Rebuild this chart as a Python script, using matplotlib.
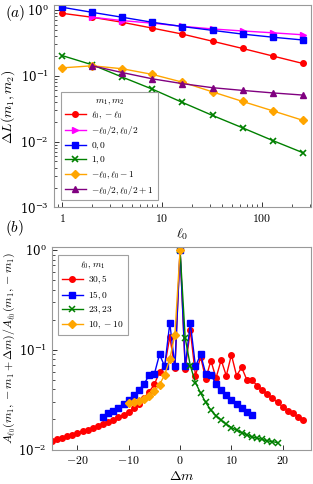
import numpy as np
import matplotlib
matplotlib.use("Agg")
import matplotlib.pyplot as plt
from matplotlib.ticker import FuncFormatter, LogLocator, NullFormatter

plt.rcParams['mathtext.fontset'] = 'cm'
plt.rcParams['font.family'] = 'serif'
plt.rcParams['font.serif'] = ['DejaVu Serif']
plt.rcParams['axes.formatter.use_mathtext'] = True

# ---------------- Panel (a) data ----------------
l0 = [1, 2, 4, 8, 16, 32, 64, 128, 256]
l0_half = [2, 4, 8, 16, 32, 64, 128, 256]
dl_red = [0.89, 0.775, 0.65, 0.53, 0.43, 0.335, 0.26, 0.20, 0.154]
dl_magenta = [0.775, 0.69, 0.63, 0.565, 0.515, 0.48, 0.45, 0.42]
dl_blue = [1.10, 0.92, 0.775, 0.65, 0.56, 0.49, 0.43, 0.386, 0.35]
dl_green = [0.203, 0.147, 0.0956, 0.0627, 0.0394, 0.0250, 0.0162, 0.0104, 0.0068]
dl_orange = [0.132, 0.142, 0.128, 0.105, 0.080, 0.057, 0.0408, 0.0294, 0.0211]
dl_purple = [0.142, 0.112, 0.090, 0.076, 0.066, 0.060, 0.055, 0.051]
labels_a = [r'$\ell_0, -\ell_0$', r'$-\ell_0/2, \ell_0/2$', r'$0, 0$', r'$1, 0$',
            r'$-\ell_0, \ell_0-1$', r'$-\ell_0/2, \ell_0/2+1$']

# ---------------- Panel (b) data ----------------
dm_red = list(range(-25, 25))
ratio_red = [0.0122, 0.0127, 0.0131, 0.0136, 0.0141, 0.0146, 0.0152, 0.0158, 0.0165, 0.0172,
             0.0180, 0.0189, 0.0199, 0.0210, 0.0222, 0.0236, 0.0260, 0.0285, 0.0330, 0.0380,
             0.045, 0.060, 0.068, 0.135, 0.065, 1.0, 0.064, 0.157, 0.055, 0.085,
             0.051, 0.078, 0.052, 0.079, 0.055, 0.089, 0.055, 0.0665, 0.050, 0.050,
             0.0436, 0.0395, 0.036, 0.0325, 0.0296, 0.0268, 0.0244, 0.023, 0.0212, 0.0197]
dm_blue = list(range(-15, 15))
ratio_blue = [0.021, 0.0231, 0.0244, 0.026, 0.0285, 0.0315, 0.035, 0.0397, 0.0454, 0.056,
              0.0573, 0.09, 0.068, 0.185, 0.068, 1.0, 0.068, 0.185, 0.068, 0.09,
              0.0573, 0.056, 0.0454, 0.0397, 0.035, 0.0315, 0.0285, 0.026, 0.024, 0.022]
dm_green = list(range(0, 20))
ratio_green = [1.0, 0.131, 0.069, 0.0469, 0.0368, 0.0296, 0.0248, 0.0218, 0.0197, 0.0179,
               0.0166, 0.0156, 0.0148, 0.014, 0.0134, 0.013, 0.0126, 0.0122, 0.0120, 0.0117]
dm_orange = list(range(-10, 1))
ratio_orange = [0.029, 0.0296, 0.0308, 0.032, 0.034, 0.0382, 0.0447, 0.056, 0.081, 0.142, 1.0]
labels_b = [r'$30, 5$', r'$15, 0$', r'$23, 23$', r'$10, -10$']

W, H = 313, 484
fig = plt.figure(figsize=(W / 100, H / 100), dpi=100)

spine_col = '#999999'

def style(ax):
    for s in ax.spines.values():
        s.set_color(spine_col)
        s.set_linewidth(0.8)
    ax.tick_params(which='both', direction='in', top=False, right=False,
                   labelsize=8.5, color='#333333')
    ax.tick_params(which='major', length=3.5, width=0.7)
    ax.tick_params(which='minor', length=2, width=0.6)

def mathfmt(v, pos):
    return r'$%d$' % int(round(v))

legkw = dict(fontsize=6.8, title_fontsize=6.8, frameon=True, fancybox=False,
             edgecolor='#888888', handlelength=2.2, borderpad=0.4, labelspacing=0.32,
             handletextpad=0.6, borderaxespad=0.0)

# ---------------- Panel (a) ----------------
axa = fig.add_axes([53.5 / W, 1 - 207.5 / H, (311 - 53.5) / W, (207.5 - 5) / H])
style(axa)
kw = dict(lw=1.0, ms=4)
axa.plot(l0, dl_red, color='red', marker='o', label=labels_a[0], **kw)
axa.plot(l0_half, dl_magenta, color='magenta', marker='>', label=labels_a[1], **kw)
axa.plot(l0, dl_blue, color='blue', marker='s', label=labels_a[2], **kw)
axa.plot(l0, dl_green, color='green', marker='x', label=labels_a[3], lw=1.0, ms=4.5, mew=1.2)
axa.plot(l0, dl_orange, color='orange', marker='D', label=labels_a[4], lw=1.0, ms=3.8)
axa.plot(l0_half, dl_purple, color='purple', marker='^', label=labels_a[5], **kw)
axa.set_xscale('log')
axa.set_yscale('log')
axa.set_xlim(0.82, 309)
axa.set_ylim(1e-3, 1.19)
axa.xaxis.set_major_formatter(FuncFormatter(mathfmt))
axa.yaxis.set_major_locator(LogLocator(base=10, numticks=10))
axa.yaxis.set_minor_locator(LogLocator(base=10, subs=np.arange(2, 10), numticks=20))
axa.yaxis.set_minor_formatter(NullFormatter())
axa.set_xlabel(r'$\ell_0$', fontsize=10, labelpad=1)
axa.set_ylabel(r'$\Delta L(m_1, m_2)$', fontsize=10, labelpad=2)
leg = axa.legend(loc='lower left', bbox_to_anchor=(0.03, 0.035),
                 title=r'$m_1, m_2$', **legkw)
leg.get_frame().set_linewidth(0.8)
fig.text(5 / W, 1 - 13 / H, r'$(a)$', fontsize=11, va='center', ha='left')

# ---------------- Panel (b) ----------------
axb = fig.add_axes([51.7 / W, 1 - 449.5 / H, (311 - 51.7) / W, (449.5 - 247.3) / H])
style(axb)
axb.plot(dm_red, ratio_red, color='red', marker='o', label=labels_b[0], **kw)
axb.plot(dm_blue, ratio_blue, color='blue', marker='s', label=labels_b[1], **kw)
axb.plot(dm_green, ratio_green, color='green', marker='x', label=labels_b[2], lw=1.0, ms=4, mew=1.1)
axb.plot(dm_orange, ratio_orange, color='orange', marker='D', label=labels_b[3], lw=1.0, ms=3.8)
axb.set_yscale('log')
axb.set_xlim(-25, 25.5)
axb.set_ylim(1e-2, 1.065)
axb.set_xticks([-20, -10, 0, 10, 20])
axb.xaxis.set_major_formatter(FuncFormatter(lambda v, p: r'$%d$' % v))
axb.yaxis.set_minor_locator(LogLocator(base=10, subs=np.arange(2, 10), numticks=20))
axb.yaxis.set_minor_formatter(NullFormatter())
axb.set_xlabel(r'$\Delta m$', fontsize=10, labelpad=1)
axb.set_ylabel(r'$A_{\ell_0}(m_1, -m_1+\Delta m)/A_{\ell_0}(m_1, -m_1)$', fontsize=8.6, labelpad=1)
legb = axb.legend(loc='upper left', bbox_to_anchor=(0.025, 0.96),
                  title=r'$\ell_0, m_1$', **legkw)
legb.get_frame().set_linewidth(0.8)
fig.text(5 / W, 1 - 228 / H, r'$(b)$', fontsize=11, va='center', ha='left')

fig.savefig('out.png', dpi=100)
